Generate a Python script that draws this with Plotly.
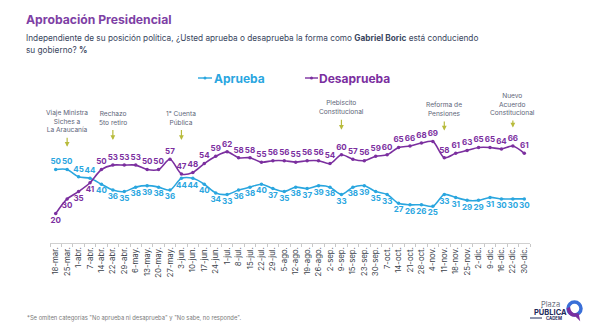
import plotly.graph_objects as go

fechas = ["18-mar.", "25-mar.", "1-abr.", "7-abr.", "14-abr.", "22-abr.", "29-abr.",
          "6-may.", "13-may.", "20-may.", "27-may.", "3-jun.", "10-jun.", "17-jun.",
          "24-jun.", "1-jul.", "8-jul.", "15-jul.", "22-jul.", "29-jul.", "5-ago.",
          "12-ago.", "19-ago.", "26-ago.", "2-sep.", "9-sep.", "15-sep.", "23-sep.",
          "30-sep.", "7-oct.", "14-oct.", "21-oct.", "28-oct.", "4-nov.", "11-nov.",
          "18-nov.", "25-nov.", "2-dic.", "9-dic.", "16-dic.", "22-dic.", "30-dic."]

aprueba = [50, 50, 45, 44, 40, 36, 35, 38, 39, 38, 36, 44, 44, 40, 34, 33, 36, 38, 40, 37, 35,
           38, 37, 39, 38, 33, 38, 39, 35, 33, 27, 26, 26, 25, 33, 31, 29, 29, 31, 30, 30, 30]

desaprueba = [20, 30, 35, 41, 50, 53, 53, 53, 50, 50, 57, 47, 48, 54, 59, 62, 58, 58, 55, 56, 56,
              55, 56, 56, 54, 60, 57, 56, 59, 60, 65, 66, 68, 69, 58, 61, 63, 65, 65, 64, 66, 61]

eventos = [("25-mar.", "Viaje Ministra<br>Siches a<br>La Araucanía", 65.5, -25),
           ("22-abr.", "Rechazo<br>5to retiro", 70, -22),
           ("3-jun.", "1° Cuenta<br>Pública", 70, -22),
           ("9-sep.", "Plebiscito<br>Constitucional", 77, -22),
           ("11-nov.", "Reforma de<br>Pensiones", 76.5, -21),
           ("22-dic.", "Nuevo<br>Acuerdo<br>Constitucional", 78.5, -23)]

AZUL = "#2aa6df"
MORADO = "#7b2f9f"
FONT = "Inter"

pos_ap = ["top center" if i < 4 else "bottom center" for i in range(len(aprueba))]
pos_de = ["bottom center" if i < 4 else "top center" for i in range(len(desaprueba))]

fig = go.Figure()
fig.add_trace(go.Scatter(
    x=fechas, y=aprueba, name="Aprueba", mode="lines+markers+text",
    line=dict(color=AZUL, width=1.6, shape="spline", smoothing=0.8),
    marker=dict(color=AZUL, size=3.5),
    text=[str(v) for v in aprueba], textposition=pos_ap,
    textfont=dict(color=AZUL, size=8, family=FONT, weight="bold"),
    cliponaxis=False, showlegend=False))
fig.add_trace(go.Scatter(
    x=fechas, y=desaprueba, name="Desaprueba", mode="lines+markers+text",
    line=dict(color=MORADO, width=1.6, shape="spline", smoothing=0.8),
    marker=dict(color=MORADO, size=3.5),
    text=[str(v) for v in desaprueba], textposition=pos_de,
    textfont=dict(color=MORADO, size=8, family=FONT, weight="bold"),
    cliponaxis=False, showlegend=False))

W, H = 598, 332
pl, pr, pt, pb = 50, 68, 96, 89
pw, ph = W - pl - pr, H - pt - pb

fig.update_layout(
    width=W, height=H, margin=dict(l=pl, r=pr, t=pt, b=pb),
    paper_bgcolor="white", plot_bgcolor="white",
    font=dict(family=FONT),
    xaxis=dict(type="category", range=[-0.5, 41.5], showgrid=False, showline=True,
               linecolor="#d0d0d0", linewidth=1, ticks="outside", tickson="boundaries",
               ticklen=3, tickcolor="#c8c8c8", tickangle=-90,
               tickfont=dict(size=7.8, color="#3a3f4a", family=FONT)),
    yaxis=dict(range=[0, 100], visible=False, fixedrange=True),
    showlegend=False,
)

for x, t, y, ay in eventos:
    fig.add_annotation(
        x=x, y=y, xref="x", yref="y", text=t, showarrow=True,
        arrowhead=2, arrowsize=0.8, arrowwidth=1.2, arrowcolor="#b8bb3c",
        ax=0, ay=ay, standoff=0, startstandoff=2,
        font=dict(size=6.6, color="#5d6578", family=FONT), align="center")


def px(x):
    return (x - pl) / pw


def py(y):
    return 1 - (y - pt) / ph


def txt(x, y, t, size, color, xanchor="left"):
    fig.add_annotation(x=px(x), y=py(y), xref="paper", yref="paper", text=t, showarrow=False,
                       xanchor=xanchor, yanchor="middle",
                       font=dict(size=size, color=color, family=FONT), align="left")


txt(24, 20, "<b>Aprobación Presidencial</b>", 12.2, "#7e3fa5")
txt(24, 38, "Independiente de su posición política, ¿Usted aprueba o desaprueba la forma como "
            "<b>Gabriel Boric</b> está conduciendo", 8.25, "#3a4660")
txt(24, 49.5, "su gobierno? <b>%</b>", 8.25, "#3a4660")

# custom legend
for x0, x1, tx, label, color in [(198, 212, 212, "Aprueba", AZUL), (305, 318, 317, "Desaprueba", MORADO)]:
    fig.add_shape(type="line", xref="paper", yref="paper", x0=px(x0), x1=px(x1), y0=py(78), y1=py(78),
                  line=dict(color=color, width=1.4))
    fig.add_shape(type="circle", xref="paper", yref="paper", x0=px((x0 + x1) / 2 - 1.5),
                  x1=px((x0 + x1) / 2 + 1.5), y0=py(79.5), y1=py(76.5),
                  fillcolor=color, line=dict(width=0))
    txt(tx, 78, "<b>" + label + "</b>", 12, color)

# footnote
txt(25, 318, "*Se omiten categorías \"No aprueba ni desaprueba\" y \"No sabe, no responde\".", 5.8, "#7a7a7a")

# logo
txt(550, 304, "Plaza", 7.5, "#6b7080", xanchor="center")
txt(550, 311.5, "<b>PÚBLICA</b>", 7.5, "#1f2a5c", xanchor="center")
fig.add_shape(type="line", xref="paper", yref="paper", x0=px(530), x1=px(542), y0=py(318), y1=py(318),
              line=dict(color="#1f2a5c", width=1))
txt(554, 318.3, "<b>CADEM</b>", 4.3, "#1f2a5c", xanchor="center")
fig.add_shape(type="circle", xref="paper", yref="paper", x0=px(568), x1=px(581), y0=py(315), y1=py(302),
              fillcolor="rgba(0,0,0,0)", line=dict(color="#3a6fd8", width=3.5))
fig.add_shape(type="path", xref="paper", yref="paper",
              path=f"M {px(567.5)} {py(309)} Q {px(569)} {py(316.5)} {px(576)} {py(316)} L {px(579)} {py(319)} L {px(578)} {py(314)} Q {px(570.5)} {py(315)} {px(569.5)} {py(308)} Z",
              fillcolor="#7b2f9f", line=dict(color="#7b2f9f", width=1.5))

fig.write_html("out.html")
